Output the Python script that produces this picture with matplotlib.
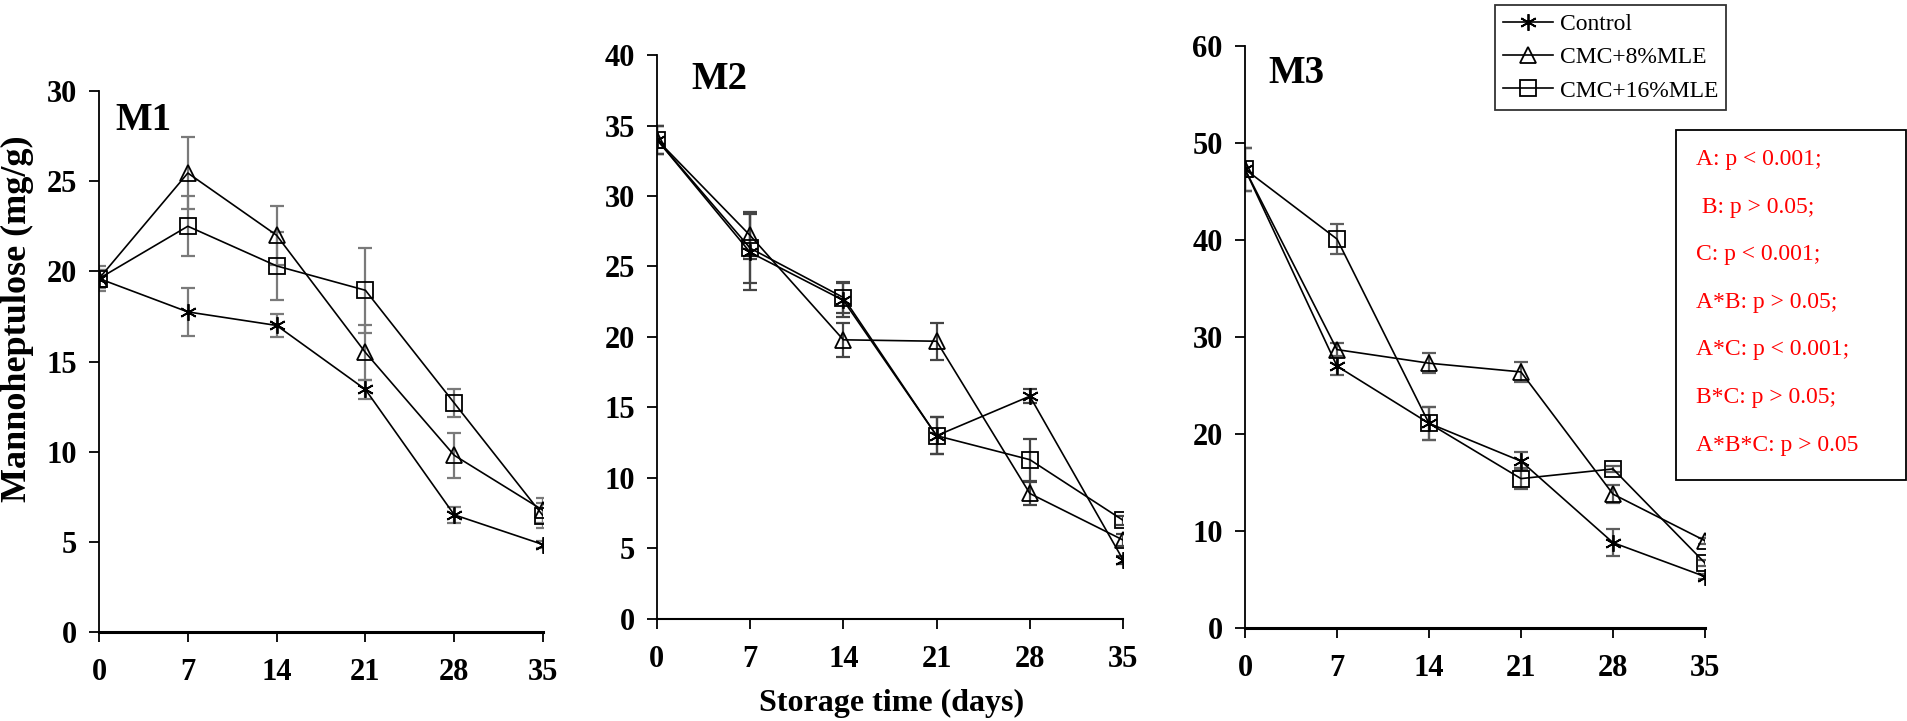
import matplotlib
matplotlib.use('Agg')
import matplotlib.pyplot as plt
from matplotlib.patches import Rectangle

plt.rcParams['font.family'] = ['Liberation Serif', 'DejaVu Serif']

# storage days and series
days = [0, 7, 14, 21, 28, 35]
series_names = ['Control', 'CMC+8%MLE', 'CMC+16%MLE']

# M1
m1_control = [19.6, 17.75, 17.0, 13.45, 6.5, 4.85]
m1_control_err = [0.7, 1.35, 0.65, 0.55, 0.45, 0.2]
m1_cmc8 = [19.6, 25.45, 22.0, 15.5, 9.8, 6.75]
m1_cmc8_err = [0.5, 2.0, 1.65, 1.55, 1.25, 0.7]
m1_cmc16 = [19.6, 22.5, 20.3, 18.95, 12.7, 6.45]
m1_cmc16_err = [0.5, 1.65, 1.9, 2.35, 0.75, 0.7]

# M2
m2_control = [34.0, 26.0, 22.6, 13.0, 15.8, 4.2]
m2_control_err = [1.0, 2.7, 1.2, 1.3, 0.5, 0.3]
m2_cmc8 = [34.0, 27.2, 19.8, 19.7, 8.9, 5.6]
m2_cmc8_err = [1.0, 1.7, 1.2, 1.3, 0.8, 0.4]
m2_cmc16 = [34.0, 26.3, 22.8, 13.0, 11.3, 7.0]
m2_cmc16_err = [1.0, 2.5, 1.1, 1.3, 1.5, 0.3]

# M3
m3_control = [47.3, 27.0, 21.1, 17.2, 8.8, 5.3]
m3_control_err = [2.2, 0.9, 1.7, 0.9, 1.4, 0.3]
m3_cmc8 = [47.3, 28.7, 27.3, 26.4, 13.8, 9.0]
m3_cmc8_err = [2.2, 0.7, 1.0, 1.0, 0.9, 0.3]
m3_cmc16 = [47.3, 40.1, 21.1, 15.4, 16.4, 6.7]
m3_cmc16_err = [2.2, 1.5, 1.7, 1.1, 0.3, 0.3]

stats_lines = ['A: p < 0.001;', ' B: p > 0.05;', 'C: p < 0.001;', 'A*B: p > 0.05;',
               'A*C: p < 0.001;', 'B*C: p > 0.05;', 'A*B*C: p > 0.05']

fig = plt.figure(figsize=(19.08, 7.21), dpi=100)

panels = [
    ('M1', [0.0519, 0.1234, 0.2327, 0.7504], 30, 5,
     [m1_control, m1_cmc8, m1_cmc16], [m1_control_err, m1_cmc8_err, m1_cmc16_err], (0.036, 0.946), '#7a7a7a'),
    ('M2', [0.3443, 0.1415, 0.2443, 0.7822], 40, 5,
     [m2_control, m2_cmc8, m2_cmc16], [m2_control_err, m2_cmc8_err, m2_cmc16_err], (0.073, 0.956), '#444444'),
    ('M3', [0.6525, 0.1290, 0.2411, 0.8072], 60, 10,
     [m3_control, m3_cmc8, m3_cmc16], [m3_control_err, m3_cmc8_err, m3_cmc16_err], (0.05, 0.952), '#5e5e5e'),
]

markers = [(6, 2, 0), '^', 's']
msizes = [12, 11, 11]
handles = []
for name, rect, ymax, ystep, vals, errs, lab_pos, ecol in panels:
    ax = fig.add_axes(rect)
    for i in range(3):
        ax.errorbar(days, vals[i], yerr=errs[i], fmt='none', ecolor=ecol,
                    elinewidth=1.6, capsize=5, capthick=1.6, zorder=2)
    for i in range(3):
        h, = ax.plot(days, vals[i], color='black', lw=1.2, marker=markers[i], ms=msizes[i],
                     mfc='none', mec='black', mew=1.3, label=series_names[i], zorder=3)
        if name == 'M1':
            handles.append(h)
    ax.set_xlim(0, 35)
    ax.set_ylim(0, ymax)
    ax.set_xticks(days)
    ax.set_yticks(range(0, ymax + 1, ystep))
    for s in ['top', 'right']:
        ax.spines[s].set_visible(False)
    ax.spines['left'].set_linewidth(1.3)
    ax.spines['bottom'].set_linewidth(2.2 if name != 'M2' else 1.5)
    ax.tick_params(direction='out', length=7, width=1.3, labelsize=22)
    ax.tick_params(axis='y', pad=9)
    ax.tick_params(axis='x', pad=12)
    for t in ax.get_xticklabels() + ax.get_yticklabels():
        t.set_fontweight('bold')
    ax.text(lab_pos[0], lab_pos[1], name, transform=ax.transAxes, fontsize=28,
            fontweight='bold', va='center', ha='left')
    ax.patch.set_alpha(0)

fig.text(0.0094, 0.5576, 'Mannoheptulose (mg/g)', rotation=90, fontsize=26,
         fontweight='bold', va='center', ha='center')
fig.text(0.4675, 0.025, 'Storage time (days)', fontsize=23, fontweight='bold',
         va='center', ha='center')

leg = fig.legend(handles=handles, loc='upper left', bbox_to_anchor=(0.7835, 0.993),
                 fontsize=17, frameon=True, fancybox=False, edgecolor='black',
                 handlelength=2.1, borderpad=0.35, labelspacing=0.5, handletextpad=0.3,
                 borderaxespad=0)
leg.get_frame().set_linewidth(1.3)

fig.add_artist(Rectangle((0.8784, 0.3343), 0.1205, 0.4854, transform=fig.transFigure,
                         facecolor='white', edgecolor='black', lw=1.3, zorder=5))
for k, line in enumerate(stats_lines):
    y = 721 - (160 + k * 47.5)
    fig.text(0.889, y / 721, line, color='red', fontsize=17, va='center', ha='left', zorder=6)

fig.savefig('out.png', dpi=100)
